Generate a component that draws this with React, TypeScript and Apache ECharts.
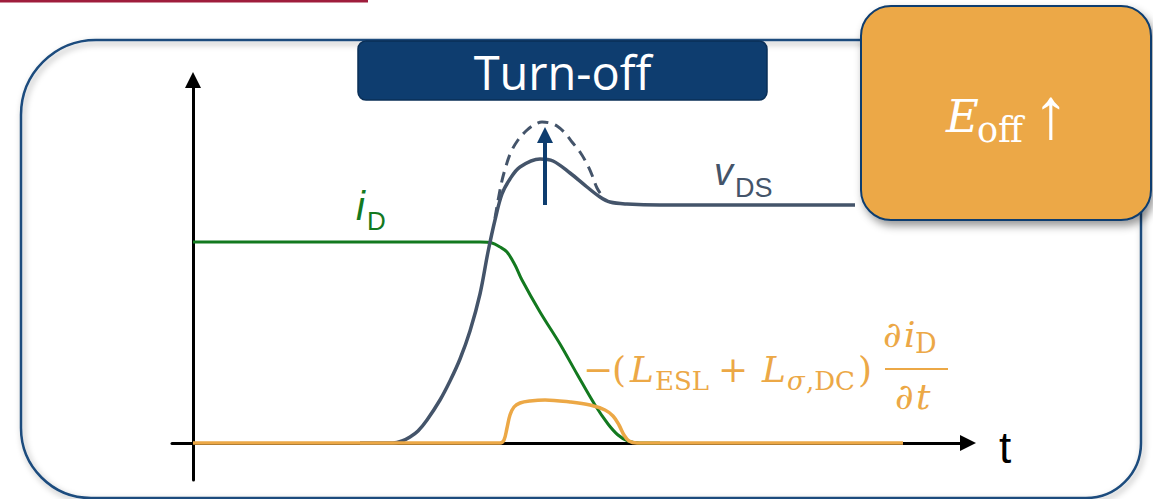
import React, { useEffect, useRef } from "react";
import * as echarts from "echarts";

// Time axis units (origin at the y-axis), amplitude units (origin at the t-axis)
const iD_t = [0, 287, 299, 307, 314, 322, 329, 347, 367, 384, 402, 415, 425, 435, 447, 467];
const iD_v = [201, 201, 200, 196, 191, 178, 163, 131, 99, 69, 38, 19, 8, 2, 0, 0];

const vDS_t = [167, 200, 209, 217, 225, 234, 247, 257, 267, 277, 287, 295, 302, 309, 317, 327, 347, 360, 377, 394, 407, 417, 434, 467, 662];
const vDS_v = [0, 0, 2, 6, 12, 23, 43, 62, 84, 112, 149, 191, 223, 249, 264, 276, 284, 282, 270, 256, 246, 241, 239, 238, 238];

const vOver_t = [302, 308, 313, 318, 325, 333, 341, 349, 357, 364, 372, 379, 387, 394, 399, 404, 410];
const vOver_v = [225, 258, 277, 291, 303, 312, 318, 321, 320, 317, 310, 301, 291, 279, 268, 255, 246];

const vL_t = [0, 307, 311, 314, 317, 321, 327, 337, 352, 377, 397, 412, 420, 426, 431, 436, 444, 710];
const vL_v = [0, 0, 3, 15, 28, 36, 40, 42, 43, 41, 38, 33, 27, 18, 8, 2, 0, 0];

const arrow_t = [352, 352];
const arrow_v = [238, 308];

const T_MIN = -21;
const T_MAX = 775;
const V_MIN = -37;
const V_MAX = 363;

const NAVY = "#0E3D6F";
const GRAY = "#44546A";
const GREEN = "#13791F";
const ORANGE = "#ECA846";

const zip = (a: number[], b: number[]) => a.map((x, i) => [x, b[i]]);

function txt(text: string, x: number, y: number, fontSize: number, fill: string, family: string, extra: any = {}) {
  return {
    type: "text",
    x,
    y,
    z: 20,
    silent: true,
    style: {
      text,
      fill,
      fontSize,
      fontFamily: family,
      fontStyle: extra.italic ? "italic" : "normal",
      align: extra.align || "left",
      textAlign: extra.align || "left",
      verticalAlign: "middle",
      textVerticalAlign: "middle",
    },
  };
}

export default function App() {
  const ref = useRef<HTMLDivElement>(null);
  useEffect(() => {
    const chart = echarts.init(ref.current!, null, { renderer: "svg" });
    const SANS = "Liberation Sans";
    const SERIF = "DejaVu Serif";
    const option: any = {
      animation: false,
      backgroundColor: "#ffffff",
      grid: { left: 172, right: 185, top: 80, bottom: 19 },
      xAxis: {
        type: "value",
        min: T_MIN,
        max: T_MAX,
        axisLabel: { show: false },
        axisTick: { show: false },
        splitLine: { show: false },
        axisLine: {
          onZero: true,
          lineStyle: { color: "#000", width: 3 },
          symbol: ["none", "triangle"],
          symbolSize: [16, 16],
        },
      },
      yAxis: {
        type: "value",
        min: V_MIN,
        max: V_MAX,
        axisLabel: { show: false },
        axisTick: { show: false },
        splitLine: { show: false },
        axisLine: {
          onZero: true,
          lineStyle: { color: "#000", width: 3 },
          symbol: ["none", "triangle"],
          symbolSize: [16, 16],
        },
      },
      series: [
        {
          type: "line",
          name: "iD",
          data: zip(iD_t, iD_v),
          showSymbol: false,
          smooth: 0.35,
          lineStyle: { color: GREEN, width: 3 },
          silent: true,
          z: 2,
        },
        {
          type: "line",
          name: "vDS",
          data: zip(vDS_t, vDS_v),
          showSymbol: false,
          smooth: 0.35,
          lineStyle: { color: GRAY, width: 3.5 },
          silent: true,
          z: 3,
          markLine: {
            silent: true,
            symbol: ["none", "triangle"],
            symbolSize: [16, 16],
            label: { show: false },
            lineStyle: { color: NAVY, width: 4, type: "solid" },
            data: [[{ coord: [arrow_t[0], arrow_v[0]] }, { coord: [arrow_t[1], arrow_v[1]] }]],
          },
        },
        {
          type: "line",
          name: "vDS overshoot",
          data: zip(vOver_t, vOver_v),
          showSymbol: false,
          smooth: 0.35,
          lineStyle: { color: GRAY, width: 3, type: [11, 7] },
          silent: true,
          z: 3,
        },
        {
          type: "line",
          name: "vL",
          data: zip(vL_t, vL_v),
          showSymbol: false,
          smooth: 0.35,
          lineStyle: { color: ORANGE, width: 3.5 },
          silent: true,
          z: 4,
        },
      ],
      graphic: [
        { type: "rect", z: 1, silent: true, shape: { x: 0, y: 0, width: 368, height: 2.5 }, style: { fill: "#9F1D3C" } },
        {
          type: "rect",
          z: 1,
          silent: true,
          shape: { x: 21, y: 40, width: 1120, height: 458, r: [75, 55, 55, 70] },
          style: { fill: "none", stroke: "#1B4B7D", lineWidth: 2.5, shadowBlur: 6, shadowOffsetX: 2, shadowOffsetY: 3, shadowColor: "rgba(0,0,0,0.35)" },
        },
        {
          type: "rect",
          z: 10,
          silent: true,
          shape: { x: 358, y: 41, width: 409, height: 59, r: 8 },
          style: { fill: NAVY, stroke: "#0A2F57", lineWidth: 1.5 },
        },
        txt("Turn-off", 562.5, 72, 47, "#ffffff", "Open Sans", { align: "center" }),
        {
          type: "rect",
          z: 10,
          silent: true,
          shape: { x: 861, y: 6, width: 290, height: 214, r: 30 },
          style: { fill: ORANGE, stroke: NAVY, lineWidth: 2, shadowBlur: 8, shadowOffsetX: 3, shadowOffsetY: 5, shadowColor: "rgba(0,0,0,0.4)" },
        },
        txt("E", 946, 116, 45, "#ffffff", SERIF, { italic: true }),
        txt("off", 977, 130, 35, "#ffffff", SERIF),
        txt("↑", 1033, 114, 72, "#ffffff", "Liberation Serif"),
        // i_D label
        txt("i", 356, 206, 40, GREEN, SANS, { italic: true }),
        txt("D", 367, 221, 26, GREEN, SANS),
        // v_DS label
        txt("v", 714, 172, 38, GRAY, SANS, { italic: true }),
        txt("DS", 735, 188, 27, GRAY, SANS),
        // t label
        txt("t", 999, 447, 44, "#000000", SANS),
        // formula
        txt("−", 583, 369.5, 36, ORANGE, SERIF),
        txt("(", 612, 369.5, 36, ORANGE, SERIF),
        txt("L", 630, 369.5, 36, ORANGE, SERIF, { italic: true }),
        txt("ESL", 655, 381, 26, ORANGE, SERIF),
        txt("+", 718, 369.5, 36, ORANGE, SERIF),
        txt("L", 762, 369.5, 36, ORANGE, SERIF, { italic: true }),
        txt("σ", 787, 381, 26, ORANGE, SERIF, { italic: true }),
        txt(",DC", 806, 381, 26, ORANGE, SERIF),
        txt(")", 858, 369.5, 36, ORANGE, SERIF),
        txt("∂", 883, 334, 36, ORANGE, SERIF),
        txt("i", 904, 334, 36, ORANGE, SERIF, { italic: true }),
        txt("D", 915, 343, 27, ORANGE, SERIF),
        { type: "line", z: 20, silent: true, shape: { x1: 885, y1: 369, x2: 948, y2: 369 }, style: { stroke: ORANGE, lineWidth: 2 } },
        txt("∂", 895, 396, 36, ORANGE, SERIF),
        txt("t", 916, 396, 36, ORANGE, SERIF, { italic: true }),
      ],
    };
    chart.setOption(option);
    return () => chart.dispose();
  }, []);
  return <div ref={ref} style={{ position: "fixed", left: 0, top: 0, width: 1153, height: 499 }} />;
}
